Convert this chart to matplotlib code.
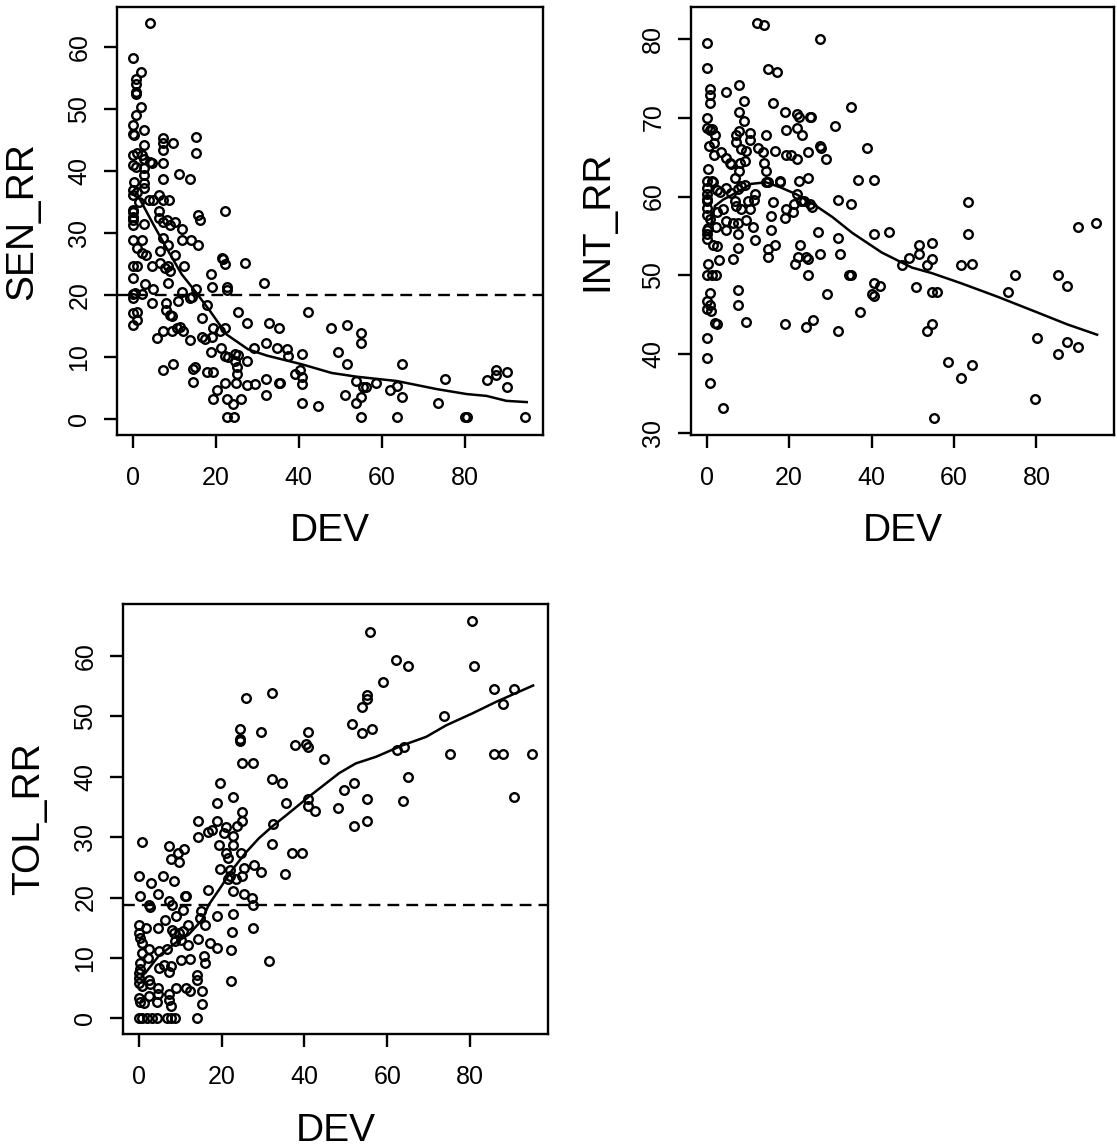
import numpy as np
import matplotlib
matplotlib.use("Agg")
import matplotlib.pyplot as plt

plt.rcParams['font.family'] = ['Liberation Sans', 'DejaVu Sans']

# --------------------------------
# DATA
# --------------------------------
# SEN_RR vs DEV
sen_dev = [4.2, 0, 2.0, 0.8, 0.8, 0.8, 0.8, 2.0, 0.8, 0, 0, 0.3, 2.6, 7.4, 7.4, 9.6,
           15.2, 15.2, 2.6, 7.4, 0, 1.0, 2.3, 2.6, 4.2, 4.6, 0, 0.8, 2.6, 7.4, 11.2,
           13.8, 7.4, 2.6, 2.6, 0.3, 0, 0, 1.0, 2.6, 1.4, 4.0, 5.0, 6.4, 7.4, 8.8,
           0, 0, 0, 0, 0, 2.6, 6.4, 6.4, 7.4, 8.2, 9.0, 10.2, 11.8, 15.7, 16.1, 22.2,
           0, 2.2, 1.0, 2.2, 3.2, 7.4, 8.6, 6.6, 11.8, 14.0, 15.7, 10.2, 6.6, 4.6,
           7.8, 9.0, 8.6, 12.4, 0, 1.0, 0.1, 21.4, 21.8, 22.2, 27.0, 18.9, 19.0, 8.6,
           3.0, 5.0, 22.6, 22.8, 31.5, 15.2, 0, 0.6, 2.2, 11.8, 14.2, 11.0, 13.8, 0,
           4.7, 8.0, 8.0, 9.4, 9.0, 17.8, 25.4, 42.3, 0, 1.0, 1.0, 0, 16.8, 27.6,
           32.7, 35.3, 47.8, 51.6, 54.9, 54.9, 5.8, 7.4, 9.4, 10.6, 11.4, 12.2, 13.9,
           16.6, 17.4, 19.0, 19.4, 21.0, 22.2, 32.0, 34.7, 37.1, 37.5, 29.2, 21.2,
           18.9, 22.2, 23.0, 24.6, 25.4, 24.6, 25.0, 25.0, 27.6, 40.7, 49.5, 51.6,
           64.8, 7.4, 9.6, 14.6, 15.0, 14.6, 17.8, 19.4, 39.1, 40.3, 40.7, 40.7, 32.0,
           35.3, 35.5, 27.4, 29.5, 24.9, 22.2, 20.2, 19.4, 22.6, 24.2, 26.1, 32.0,
           40.7, 44.5, 51.1, 53.8, 55.5, 56.2, 54.9, 53.8, 58.7, 62.0, 63.7, 64.8,
           73.6, 75.2, 85.2, 87.6, 87.5, 90.2, 90.2, 22.6, 24.5, 55.0, 63.6, 80.0,
           80.4, 94.5]
sen_rr = [63.9, 58.1, 56.0, 54.8, 54.0, 52.7, 52.3, 50.2, 49.0, 47.3, 46.0, 45.7, 46.5,
          45.2, 44.5, 44.4, 45.5, 42.9, 44.1, 43.3, 42.5, 42.9, 42.5, 41.9, 41.4,
          41.3, 41.0, 40.6, 40.4, 41.2, 39.4, 38.6, 38.6, 39.3, 38.0, 38.2, 36.9,
          36.1, 36.6, 37.2, 34.9, 35.3, 35.3, 36.1, 35.3, 35.3, 33.7, 33.4, 32.5,
          32.1, 31.3, 31.4, 33.5, 32.4, 31.8, 32.1, 31.3, 31.8, 30.6, 32.9, 32.1,
          33.5, 28.9, 28.9, 27.5, 26.7, 26.4, 29.1, 28.1, 27.0, 28.9, 28.9, 28.1,
          26.4, 25.1, 24.6, 24.4, 23.8, 24.6, 24.6, 24.6, 24.6, 22.7, 26.0, 25.7,
          24.9, 25.1, 23.4, 21.2, 21.9, 21.7, 20.9, 21.2, 20.7, 21.9, 20.9, 20.1,
          20.3, 20.2, 20.4, 19.6, 19.0, 19.5, 19.5, 18.7, 18.7, 17.5, 16.6, 16.8,
          18.4, 17.3, 17.3, 17.0, 17.3, 15.9, 15.1, 16.2, 15.5, 15.5, 14.7, 14.7,
          15.1, 13.8, 12.3, 13.0, 14.1, 14.1, 14.7, 14.8, 14.1, 12.7, 13.2, 12.8,
          13.2, 14.7, 14.1, 14.7, 12.3, 11.5, 11.2, 10.2, 11.5, 11.5, 10.8, 10.2,
          9.9, 10.4, 10.3, 9.4, 8.3, 7.2, 9.4, 10.4, 10.8, 8.9, 8.9, 7.9, 8.9, 8.1,
          8.3, 6.0, 7.5, 7.5, 7.2, 7.9, 6.7, 5.6, 6.4, 5.8, 5.8, 5.5, 5.6, 5.7, 5.7,
          4.7, 3.2, 3.2, 2.4, 3.2, 3.9, 2.5, 2.1, 3.9, 6.1, 5.1, 5.1, 3.6, 2.5, 5.7,
          4.7, 5.3, 3.6, 2.5, 6.5, 6.3, 7.9, 7.1, 7.5, 5.1, 0.3, 0.3, 0.3, 0.3, 0.3,
          0.3, 0.3]
sen_fit_dev = [1.8, 5.0, 8.6, 11.8, 15.0, 18.6, 22.6, 27.8, 32.3, 40.7, 47.9, 53.9,
               63.6, 73.2, 80.4, 85.2, 90.0, 94.9]
sen_fit = [35.3, 31.3, 27.0, 23.3, 20.6, 17.4, 13.6, 11.2, 10.2, 8.8, 7.4, 6.8, 6.1,
           4.8, 4.0, 3.7, 2.9, 2.7]
sen_cut = 20

# INT_RR vs DEV
int_dev = [12.2, 13.9, 27.4, 0, 0, 14.8, 17.1, 0.8, 0.8, 0.8, 4.6, 7.9, 9.0, 16.1,
           35.1, 0, 0, 0.8, 1.2, 7.9, 9.0, 7.9, 18.9, 21.8, 22.4, 25.0, 25.4, 21.8,
           23.1, 19.3, 14.3, 31.1, 2.0, 1.8, 0.6, 1.8, 3.6, 4.8, 7.1, 7.2, 8.3, 10.4,
           10.6, 9.6, 12.4, 27.4, 27.7, 38.9, 13.6, 14.0, 14.4, 16.6, 19.3, 20.5,
           21.8, 24.7, 28.9, 5.6, 6.0, 8.0, 9.2, 7.9, 6.8, 0.4, 0, 0, 1.2, 1.6, 14.4,
           14.8, 17.7, 17.7, 22.5, 24.7, 36.8, 40.5, 2.4, 3.2, 4.8, 6.0, 7.6, 8.4,
           9.2, 0, 0, 0, 6.8, 7.2, 8.4, 10.0, 10.6, 11.6, 11.8, 16.1, 19.3, 19.1,
           20.9, 21.3, 21.8, 22.9, 23.7, 25.0, 25.5, 31.9, 35.1, 63.4, 0, 0, 0.8,
           0.4, 0, 0, 0, 2.4, 4.0, 15.5, 2.3, 4.6, 4.6, 6.4, 7.5, 7.5, 9.6, 11.2,
           15.5, 26.9, 40.5, 44.3, 63.4, 90.1, 94.5, 1.6, 2.4, 7.5, 11.8, 14.8, 14.8,
           16.6, 22.6, 21.5, 22.1, 24.1, 24.5, 27.4, 31.9, 32.3, 6.3, 3.0, 0.4, 0,
           1.4, 2.2, 51.4, 51.4, 49.2, 47.5, 53.5, 54.7, 54.7, 61.8, 64.4, 24.7,
           34.5, 35.1, 74.9, 85.1, 87.3, 40.5, 42.1, 50.8, 0.8, 7.5, 29.1, 40.1,
           40.5, 54.7, 55.8, 73.0, 0, 0, 0.8, 1.0, 7.5, 37.3, 2.0, 2.4, 9.5, 18.9,
           24.1, 25.8, 31.9, 54.7, 53.5, 0, 80.1, 87.3, 90.1, 85.1, 0, 58.6, 64.4,
           61.8, 0.8, 79.7, 4.0, 55.2]
int_rr = [82.0, 81.7, 80.0, 79.5, 76.3, 76.1, 75.8, 73.6, 72.9, 71.8, 73.2, 74.1, 72.1,
          71.8, 71.3, 69.9, 68.7, 68.4, 68.5, 70.7, 69.6, 68.3, 70.7, 70.4, 70.1,
          70.1, 70.1, 68.7, 67.8, 68.4, 67.8, 68.9, 67.8, 66.8, 66.4, 65.3, 65.6,
          64.9, 67.8, 66.9, 66.0, 68.1, 67.2, 65.8, 66.2, 66.4, 66.2, 66.2, 65.6,
          64.3, 63.2, 65.8, 65.3, 65.3, 64.7, 65.6, 64.7, 64.3, 64.1, 64.3, 64.5,
          63.2, 62.4, 63.5, 62.0, 61.1, 62.0, 61.8, 61.8, 61.8, 62.0, 61.8, 62.0,
          62.4, 62.1, 62.1, 60.8, 60.6, 61.1, 60.5, 60.9, 61.3, 61.5, 60.3, 59.7,
          59.4, 59.4, 58.8, 58.4, 59.4, 58.4, 59.6, 60.3, 59.3, 58.4, 57.3, 58.0,
          59.0, 60.3, 59.4, 59.4, 59.0, 58.7, 59.5, 59.0, 59.3, 58.6, 57.6, 57.1,
          56.0, 55.8, 55.2, 54.6, 58.0, 58.4, 57.5, 56.2, 56.9, 55.8, 56.6, 56.6,
          55.2, 57.0, 56.1, 55.8, 55.5, 55.3, 55.5, 55.3, 56.1, 56.7, 53.9, 53.7,
          53.5, 54.5, 53.3, 52.4, 53.8, 53.8, 51.5, 52.4, 52.3, 52.1, 52.7, 54.7,
          52.7, 52.1, 51.9, 51.4, 50.1, 50.1, 50.1, 53.9, 52.7, 52.2, 51.3, 51.3,
          52.1, 54.1, 51.3, 51.5, 50.1, 50.1, 50.1, 50.1, 50.1, 48.7, 49.0, 48.7,
          48.5, 47.8, 48.1, 47.6, 47.6, 47.4, 47.9, 47.9, 47.9, 46.8, 45.8, 46.2,
          45.5, 46.2, 45.4, 44.0, 43.9, 44.1, 43.8, 43.5, 44.4, 43.0, 43.9, 43.0,
          42.1, 42.1, 41.6, 41.0, 40.1, 39.6, 39.1, 38.7, 37.0, 36.4, 34.4, 33.2,
          31.9]
int_fit_dev = [1.2, 2.0, 4.0, 7.2, 10.8, 14.4, 17.7, 21.7, 25.7, 30.5, 35.3, 42.5,
               49.8, 54.6, 61.8, 70.6, 80.3, 87.5, 94.7]
int_fit = [56.7, 58.8, 59.6, 60.5, 61.6, 61.8, 61.2, 60.3, 59.1, 57.4, 55.4, 52.9,
           51.0, 50.3, 49.0, 47.3, 45.3, 43.8, 42.5]

# TOL_RR vs DEV
tol_dev = [80.4, 55.8, 62.1, 65.1, 80.9, 58.9, 85.7, 90.7, 87.9, 32.1, 26.0, 55.0,
           55.0, 54.0, 73.8, 51.4, 54.0, 56.3, 24.4, 24.4, 24.4, 29.4, 40.9, 37.7,
           40.3, 40.9, 62.3, 64.0, 75.2, 85.7, 87.9, 95.0, 44.8, 25.0, 27.7, 65.1,
           32.1, 34.7, 19.5, 51.9, 49.6, 22.8, 18.8, 35.5, 40.9, 40.9, 42.5, 55.1,
           63.9, 48.0, 90.7, 25.0, 25.0, 23.8, 14.4, 18.8, 16.8, 17.7, 21.0, 20.6,
           22.8, 22.8, 32.5, 51.9, 55.1, 14.4, 19.4, 21.0, 21.5, 24.8, 32.1, 36.9,
           39.3, 0.8, 7.4, 10.9, 9.5, 7.8, 9.7, 19.5, 22.0, 22.0, 21.6, 25.4, 25.0,
           27.8, 29.4, 35.3, 0, 3.0, 5.8, 8.5, 23.4, 22.8, 16.8, 4.7, 0.2, 11.1,
           11.5, 25.4, 27.3, 27.7, 2.4, 2.8, 7.4, 8.1, 10.6, 8.9, 15.1, 14.9, 16.1,
           18.8, 22.8, 6.3, 0, 0, 1.8, 4.7, 8.1, 8.5, 9.7, 11.8, 10.6, 27.7, 22.4,
           0.4, 0.8, 2.4, 0.8, 2.3, 0.4, 0.4, 0, 4.8, 6.9, 8.7, 10.1, 11.8, 14.4,
           17.3, 19.0, 22.3, 10.1, 12.3, 15.7, 16.1, 4.8, 6.0, 7.3, 7.7, 14.0, 14.0,
           31.5, 22.3, 0, 0, 0.8, 2.4, 2.8, 8.9, 11.3, 12.3, 15.2, 4.7, 4.7, 7.3,
           7.4, 0, 0.4, 1.2, 2.4, 4.4, 7.7, 15.2, 0, 0.8, 2.0, 3.2, 4.4, 6.9, 7.7,
           8.7, 14.0]
tol_rr = [65.8, 63.9, 59.4, 58.3, 58.3, 55.7, 54.5, 54.5, 52.0, 53.9, 53.1, 53.5, 52.8,
          51.6, 50.1, 48.7, 47.2, 47.9, 47.9, 46.2, 45.9, 47.4, 47.4, 45.2, 45.4,
          45.0, 44.5, 44.9, 43.8, 43.8, 43.8, 43.8, 43.0, 42.2, 42.2, 40.0, 39.6,
          38.9, 38.9, 38.9, 37.8, 36.7, 35.6, 35.6, 36.3, 35.2, 34.4, 36.3, 35.9,
          34.8, 36.7, 34.1, 32.6, 31.8, 32.6, 32.6, 30.8, 31.1, 31.7, 30.7, 30.2,
          28.7, 32.1, 31.9, 32.6, 30.0, 28.7, 27.4, 26.5, 27.4, 28.8, 27.4, 27.4,
          29.2, 28.5, 28.1, 27.4, 26.4, 25.8, 24.7, 24.6, 23.5, 23.0, 24.9, 23.6,
          25.3, 24.3, 23.9, 23.6, 22.4, 23.6, 22.8, 23.0, 21.0, 21.3, 20.6, 20.3,
          20.3, 20.3, 20.5, 19.9, 18.8, 18.8, 18.5, 19.4, 18.8, 18.0, 16.9, 17.7,
          16.6, 15.5, 16.9, 17.3, 16.2, 15.5, 14.1, 15.0, 15.0, 14.7, 14.1, 14.1,
          15.5, 14.4, 15.0, 14.3, 13.3, 12.5, 11.4, 10.8, 10.0, 9.2, 8.2, 7.5, 11.1,
          11.4, 12.8, 13.0, 12.1, 13.2, 12.5, 11.7, 11.3, 9.7, 9.9, 10.3, 9.1, 8.4,
          8.8, 7.6, 8.6, 7.1, 6.3, 9.5, 6.1, 6.7, 5.9, 5.3, 6.4, 5.6, 5.0, 5.0, 4.6,
          4.6, 5.0, 4.0, 4.0, 3.1, 3.4, 2.7, 2.6, 3.7, 2.7, 2.0, 2.3, 0, 0, 0, 0, 0,
          0, 0, 0, 0]
tol_fit_dev = [1.6, 4.8, 8.9, 12.1, 15.3, 16.9, 19.4, 22.6, 25.8, 29.0, 32.3, 36.3,
               41.1, 48.4, 52.4, 57.3, 63.7, 69.4, 74.2, 80.6, 86.3, 95.2]
tol_fit = [7.5, 10.3, 12.5, 13.9, 16.3, 18.8, 21.3, 24.6, 27.4, 29.8, 31.8, 34.0, 36.7,
           40.6, 42.2, 43.3, 45.2, 46.6, 48.5, 50.5, 52.4, 55.1]
tol_cut = 18.7

xticks = [0, 20, 40, 60, 80]


# --------------------------------
# PLOTTING
# --------------------------------
def panel(ax, x, y, fx, fy, ylabel, yticks, ylim, cut=None):
    ax.plot(x, y, linestyle="none", marker="o", markersize=6.2,
            markerfacecolor="none", markeredgecolor="black", markeredgewidth=1.7)
    ax.plot(fx, fy, color="black", linewidth=1.8)
    if cut is not None:
        ax.axhline(cut, color="black", linewidth=1.7, linestyle=(0, (5, 3)))
    ax.set_xlim(-3.8, 98.8)
    ax.set_ylim(*ylim)
    ax.set_xticks(xticks)
    ax.set_yticks(yticks)
    ax.set_yticklabels([str(t) for t in yticks], rotation=90, va="center")
    ax.tick_params(direction="out", length=9.5, width=1.7, labelsize=18)
    ax.tick_params(axis="x", pad=13)
    ax.tick_params(axis="y", pad=9)
    for s in ax.spines.values():
        s.set_linewidth(1.7)
    ax.set_xlabel("DEV", fontsize=28, va="center")
    ax.set_ylabel(ylabel, fontsize=28, va="center")
    ax.xaxis.set_label_coords(0.5, -0.225)
    ax.yaxis.set_label_coords(-0.222, 0.5)


fig = plt.figure(figsize=(11.17, 11.48), dpi=100)

ax1 = fig.add_axes([0.1047, 0.6211, 0.3814, 0.3728])
panel(ax1, sen_dev, sen_rr, sen_fit_dev, sen_fit, "SEN_RR",
      [0, 10, 20, 30, 40, 50, 60], (-2.6, 66.4), sen_cut)

ax2 = fig.add_axes([0.6186, 0.6211, 0.3787, 0.3728])
panel(ax2, int_dev, int_rr, int_fit_dev, int_fit, "INT_RR",
      [30, 40, 50, 60, 70, 80], (29.8, 84.0))

ax3 = fig.add_axes([0.1101, 0.0993, 0.3805, 0.3746])
panel(ax3, tol_dev, tol_rr, tol_fit_dev, tol_fit, "TOL_RR",
      [0, 10, 20, 30, 40, 50, 60], (-2.6, 68.6), tol_cut)

fig.savefig("out.png", dpi=100)
